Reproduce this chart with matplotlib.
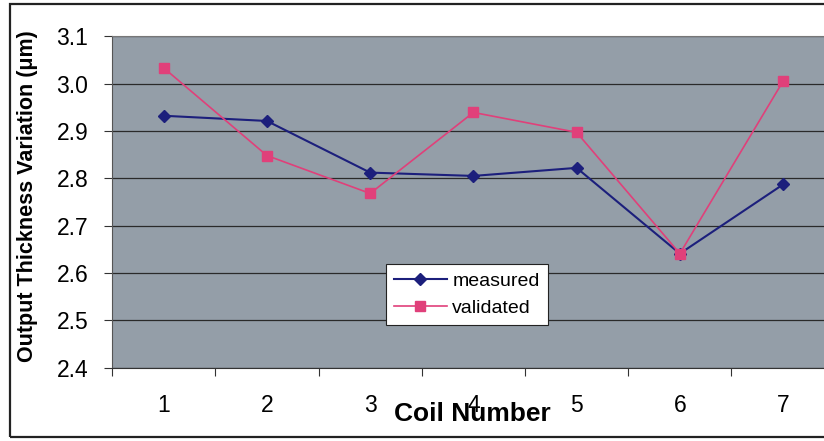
import matplotlib.pyplot as plt
from matplotlib.patches import Rectangle
from matplotlib.ticker import FixedLocator, NullFormatter, FixedFormatter

plt.rcParams["font.family"] = ["Liberation Sans", "DejaVu Sans"]

coils = [1, 2, 3, 4, 5, 6, 7]
measured = [2.932, 2.921, 2.812, 2.805, 2.822, 2.641, 2.787]
validated = [3.033, 2.848, 2.768, 2.939, 2.897, 2.641, 3.005]
y_ticks = [2.4, 2.5, 2.6, 2.7, 2.8, 2.9, 3.0, 3.1]

fig = plt.figure(figsize=(8.24, 4.41), dpi=100)
ax = fig.add_axes([0.136, 0.166, 0.877, 0.752])
ax.set_facecolor("#949ea8")

# outer chart frame
fig.patches.append(Rectangle((10 / 824, 4 / 441), 830 / 824, 433 / 441,
                             transform=fig.transFigure, fill=False,
                             edgecolor="#222222", linewidth=1.6))

ax.set_ylim(2.4, 3.1)
ax.set_xlim(0.5, 7.5)
ax.set_yticks(y_ticks)
ax.set_yticklabels([f"{v:.1f}" for v in y_ticks], fontsize=16.5)
ax.yaxis.grid(True, color="#2a2a2a", linewidth=0.9)
ax.set_axisbelow(True)

# ticks on category boundaries, labels at centres
ax.xaxis.set_major_locator(FixedLocator([c - 0.5 for c in coils] + [7.5]))
ax.xaxis.set_major_formatter(NullFormatter())
ax.xaxis.set_minor_locator(FixedLocator(coils))
ax.xaxis.set_minor_formatter(FixedFormatter([str(c) for c in coils]))
ax.tick_params(axis="x", which="major", length=6, width=0.8, color="#333333")
ax.tick_params(axis="x", which="minor", length=0, labelsize=16.5, pad=19)
ax.tick_params(axis="y", length=6, width=0.8, color="#333333", pad=11)

for side in ["top", "right"]:
    ax.spines[side].set_color("#777777")
    ax.spines[side].set_linewidth(0.8)
ax.spines["left"].set_color("#555555")
ax.spines["bottom"].set_color("#333333")

ax.plot(coils, measured, color="#1c1f7c", marker="D", markersize=6,
        linewidth=1.5, label="measured")
ax.plot(coils, validated, color="#e0407a", marker="s", markersize=7,
        linewidth=1.2, label="validated")

leg = ax.legend(loc="upper left", bbox_to_anchor=(0.366, 0.341), fontsize=14,
                frameon=True, fancybox=False, framealpha=1, edgecolor="#222222",
                handlelength=2.7, borderpad=0.4, labelspacing=0.5,
                handletextpad=0.3)
leg.get_frame().set_linewidth(0.8)

fig.text(28 / 824, 1 - 196 / 441, "Output Thickness Variation (\u03bcm)",
         rotation=90, va="center", ha="center", fontsize=15.5, fontweight="bold")
fig.text(472 / 824, 1 - 414 / 441, "Coil Number", ha="center", va="center",
         fontsize=19, fontweight="bold")

fig.savefig("out.png", dpi=100)
